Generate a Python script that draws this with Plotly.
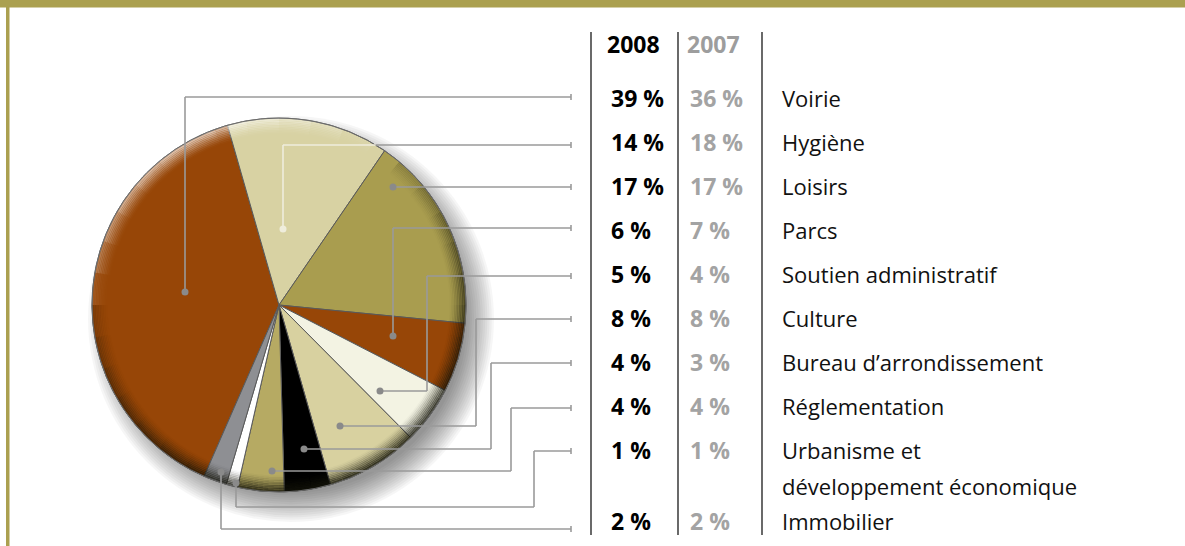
import math
import plotly.graph_objects as go

# ---------------- data ----------------
categories = ["Voirie", "Hygiène", "Loisirs", "Parcs", "Soutien administratif",
              "Culture", "Bureau d’arrondissement", "Réglementation",
              "Urbanisme et\ndéveloppement économique", "Immobilier"]
pct_2008 = [39, 14, 17, 6, 5, 8, 4, 4, 1, 2]
pct_2007 = [36, 18, 17, 7, 4, 8, 3, 4, 1, 2]
header_years = ["2008", "2007"]

# ---------------- styles / positions ----------------
W, H = 1185, 546
slice_colors = ["#974607", "#D8D2A3", "#A99D4F", "#974607", "#F3F3E3",
                "#D8D1A0", "#000000", "#B6AA63", "#FFFFFF", "#8E8F93"]
FRAME = "#ABA050"
CX, CY, R = 279, 305, 187
ROTATION = 203.6
row_y = [98, 142, 186, 230, 274, 318, 362, 406, 450, 521]
TICK_X = 571
# leader routes (pixel coords): from table tick towards the slice dot
routes = [
    [(TICK_X, 97), (185, 97), (185, 292)],
    [(TICK_X, 145), (283, 145), (283, 229)],
    [(TICK_X, 187), (393, 187)],
    [(TICK_X, 228), (393, 228), (393, 336)],
    [(TICK_X, 276), (427, 276), (427, 391), (380, 391)],
    [(TICK_X, 319), (476, 319), (476, 426), (340, 426)],
    [(TICK_X, 363), (491, 363), (491, 449), (304, 449)],
    [(TICK_X, 408), (511, 408), (511, 471), (272, 471)],
    [(TICK_X, 451), (534, 451), (534, 507), (236, 507), (236, 483)],
    [(TICK_X, 529), (221, 529), (221, 472)],
]
COL1_X, COL2_X, LABEL_X = 609, 688, 780
VLINES = [591, 678, 762]
FONT = "Open Sans"
FS = 22
FS_NUM = 23


def px(x):
    return x / W


def py(y):
    return 1 - y / H


fig = go.Figure()
fig.add_trace(go.Pie(
    labels=[c.replace("\n", " ") for c in categories],
    values=pct_2008,
    sort=False,
    direction="clockwise",
    rotation=ROTATION,
    marker=dict(colors=slice_colors, line=dict(color="#5a5a5a", width=1)),
    textinfo="none",
    hoverinfo="label+value",
    showlegend=False,
    domain=dict(x=[px(CX - R), px(CX + R)], y=[py(CY + R), py(CY - R)]),
))

shapes = []
# frame
shapes.append(dict(type="rect", xref="paper", yref="paper", x0=0, x1=1, y0=py(7.5), y1=1,
                   fillcolor=FRAME, line=dict(width=0), layer="below"))
shapes.append(dict(type="rect", xref="paper", yref="paper", x0=px(6), x1=px(9.5), y0=0, y1=1,
                   fillcolor=FRAME, line=dict(width=0), layer="below"))

# drop shadow
for k in range(14):
    r = R + 16 - k * 2.2
    sx, sy = CX + 12, CY + 14
    shapes.append(dict(type="circle", xref="paper", yref="paper",
                       x0=px(sx - r), x1=px(sx + r), y0=py(sy + r), y1=py(sy - r),
                       fillcolor="rgba(0,0,0,0.035)", line=dict(width=0), layer="below"))


def arc_path(r, a0, a1, n=6):
    pts = []
    for k in range(n + 1):
        a = math.radians(a0 + (a1 - a0) * k / n)
        pts.append((px(CX + r * math.sin(a)), py(CY - r * math.cos(a))))
    return "M " + " L ".join(f"{x:.5f},{y:.5f}" for x, y in pts)


# bevel rim (dark lower-right, light upper-left)
NR = 10
for d in range(NR):
    r = R - 1 - d * 1.6
    fall = (1 - d / NR) ** 1.5
    for s in range(36):
        a0, a1 = s * 10, s * 10 + 10
        am = (a0 + a1) / 2
        dark = max(0.0, math.cos(math.radians((am - 155) * 0.75)))
        diff = ((am - 330 + 180) % 360) - 180
        light = max(0.0, math.cos(math.radians(diff * 1.5)))
        if dark > 0.02:
            col = f"rgba(20,20,10,{0.75 * dark ** 0.8 * fall:.3f})"
        elif light > 0.02:
            col = f"rgba(255,255,255,{0.55 * light * fall:.3f})"
        else:
            continue
        shapes.append(dict(type="path", xref="paper", yref="paper",
                           path=arc_path(r, a0, a1), line=dict(color=col, width=2.2),
                           layer="above"))
# outline
shapes.append(dict(type="circle", xref="paper", yref="paper",
                   x0=px(CX - R), x1=px(CX + R), y0=py(CY + R), y1=py(CY - R),
                   line=dict(color="#6a6a6a", width=1), layer="above"))

# leader lines
LC = "#9a9a9a"
LIGHT = "#EFEDDC"
for i, pts in enumerate(routes):
    for (x0, y0), (x1, y1) in zip(pts[:-1], pts[1:]):
        if i == 1 and y0 == y1:
            edge = CX + math.sqrt(R ** 2 - (CY - y0) ** 2)
            shapes.append(dict(type="line", xref="paper", yref="paper",
                               x0=px(x0), x1=px(edge), y0=py(y0), y1=py(y1),
                               line=dict(color=LC, width=1.6), layer="above"))
            shapes.append(dict(type="line", xref="paper", yref="paper",
                               x0=px(edge), x1=px(x1), y0=py(y0), y1=py(y1),
                               line=dict(color=LIGHT, width=1.6), layer="above"))
        else:
            c = LIGHT if i == 1 else LC
            shapes.append(dict(type="line", xref="paper", yref="paper",
                               x0=px(x0), x1=px(x1), y0=py(y0), y1=py(y1),
                               line=dict(color=c, width=1.6), layer="above"))
    tx, ty = pts[0]
    shapes.append(dict(type="line", xref="paper", yref="paper",
                       x0=px(tx), x1=px(tx), y0=py(ty - 3), y1=py(ty + 3),
                       line=dict(color=LC, width=1.6), layer="above"))
    dx, dy = pts[-1]
    dc = LIGHT if i == 1 else "#8a8a8a"
    shapes.append(dict(type="circle", xref="paper", yref="paper",
                       x0=px(dx - 3.5), x1=px(dx + 3.5), y0=py(dy + 3.5), y1=py(dy - 3.5),
                       fillcolor=dc, line=dict(width=0), layer="above"))

# table vertical lines
for vx in VLINES:
    shapes.append(dict(type="line", xref="paper", yref="paper",
                       x0=px(vx), x1=px(vx), y0=py(32), y1=py(535),
                       line=dict(color="#444444", width=1.6), layer="above"))

annotations = []


def txt(x, y, s, color, bold=False, size=FS):
    annotations.append(dict(
        x=px(x), y=py(y), xref="paper", yref="paper", text=f"<b>{s}</b>" if bold else s,
        showarrow=False, xanchor="left", yanchor="middle",
        font=dict(family=FONT, size=size, color=color)))


txt(COL1_X - 4, 44, header_years[0], "#000000", bold=True, size=FS_NUM)
txt(COL2_X - 3, 44, header_years[1], "#9d9d9d", bold=True, size=FS_NUM)
for i, cat in enumerate(categories):
    y = row_y[i]
    txt(COL1_X, y, f"{pct_2008[i]} %", "#000000", bold=True, size=FS_NUM)
    txt(COL2_X, y, f"{pct_2007[i]} %", "#a3a3a3", bold=True, size=FS_NUM)
    for j, ln in enumerate(cat.split("\n")):
        txt(LABEL_X, y + j * 36, ln, "#111111")

fig.update_layout(
    width=W, height=H, autosize=False,
    margin=dict(l=0, r=0, t=0, b=0),
    paper_bgcolor="white", plot_bgcolor="white",
    shapes=shapes, annotations=annotations,
    showlegend=False,
)

fig.write_html("out.html", config={"displayModeBar": False},
               post_script="document.body.style.margin='0';document.body.style.overflow='hidden';")
